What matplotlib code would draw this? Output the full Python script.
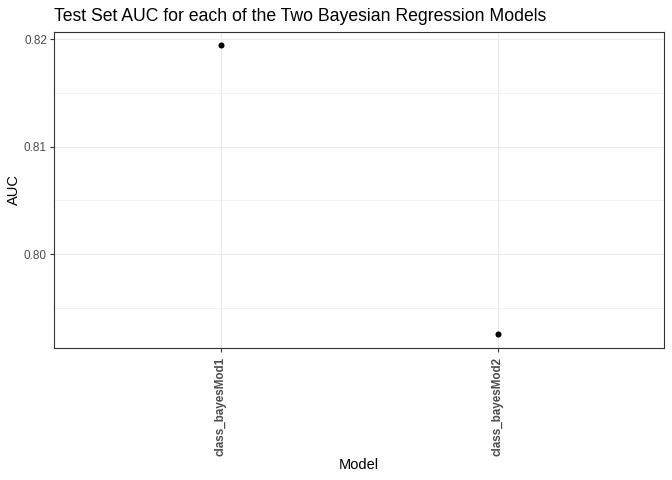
import matplotlib
matplotlib.use("Agg")
import matplotlib.pyplot as plt

models = ["class_bayesMod1", "class_bayesMod2"]
auc = [0.81944, 0.79258]
y_ticks = [0.80, 0.81, 0.82]
y_minor = [0.795, 0.805, 0.815]

plt.rcParams['font.family'] = ['Liberation Sans', 'DejaVu Sans']

W, H = 672, 480
left, right, top, bottom = 54.3, 664.3, 31.7, 348.3

fig = plt.figure(figsize=(W / 100, H / 100), dpi=100)
ax = fig.add_axes([left / W, 1 - bottom / H, (right - left) / W, (bottom - top) / H])

x = list(range(1, len(models) + 1))
ax.scatter(x, auc, color="black", s=19, zorder=3, linewidths=0)

ax.set_xlim(0.4, 2.6)
ax.set_ylim(0.79124, 0.82068)
ax.set_xticks(x)
ax.set_xticklabels(models, rotation=90, fontweight="bold", fontsize=8.4, color="#4d4d4d")
ax.set_yticks(y_ticks)
ax.set_yticklabels(["%.2f" % v for v in y_ticks], fontsize=8.5, color="#4d4d4d")
ax.set_yticks(y_minor, minor=True)
ax.tick_params(axis="y", which="minor", length=0)
ax.tick_params(which="major", length=2.9, color="#333333", width=0.8)
ax.tick_params(axis="x", pad=3.4)
ax.tick_params(axis="y", pad=2.4)

ax.grid(True, which="major", color="#ebebeb", linewidth=0.8)
ax.grid(True, which="minor", axis="y", color="#ebebeb", linewidth=0.5)
ax.set_axisbelow(True)
for s in ax.spines.values():
    s.set_color("#333333")
    s.set_linewidth(0.8)

ax.set_xlabel("Model", fontsize=10.5, labelpad=1)
ax.set_ylabel("AUC", fontsize=10.5, labelpad=2.2)
ax.set_title("Test Set AUC for each of the Two Bayesian Regression Models", fontsize=12.7, loc="left", pad=8)

fig.savefig("out.png", dpi=100)
